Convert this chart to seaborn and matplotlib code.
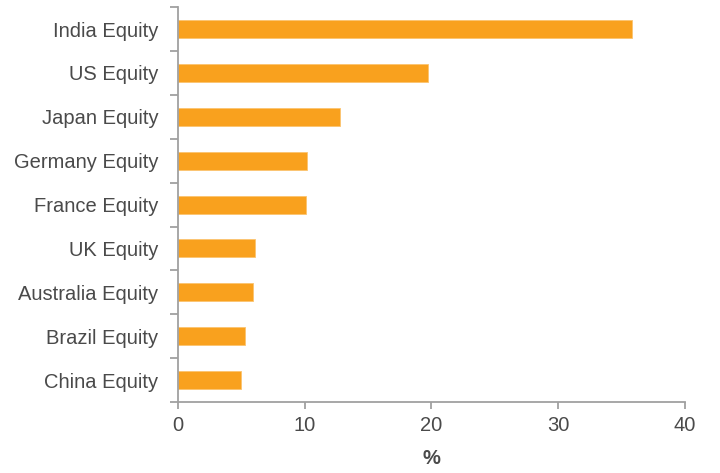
import matplotlib
matplotlib.use("Agg")
import matplotlib.pyplot as plt
import seaborn as sns
import numpy as np
import pandas as pd

categories = ["India Equity", "US Equity", "Japan Equity", "Germany Equity",
              "France Equity", "UK Equity", "Australia Equity", "Brazil Equity",
              "China Equity"]
values = [35.8, 19.7, 12.8, 10.2, 10.1, 6.1, 5.9, 5.3, 5.0]
x_ticks = [0, 10, 20, 30, 40]
x_label = "%"

sns.set_theme(style="white")
plt.rcParams["font.family"] = ["Liberation Sans", "DejaVu Sans"]

df = pd.DataFrame({"cat": categories, "val": values})

fig = plt.figure(figsize=(7.2, 4.73), dpi=100)
ax = fig.add_axes([0.2472, 0.150, 0.7042, 0.835])

sns.barplot(data=df, x="val", y="cat", orient="h", color="#F9A11E",
            saturation=1, width=0.41, edgecolor="#FBC46F", linewidth=0.6, ax=ax)

grey = "#A0A0A0"
txt = "#4A4A4A"
fs = 14.5
ax.set_xlim(0, 40)
ax.set_ylim(len(categories) - 0.5, -0.5)
ax.set_xticks(x_ticks)
ax.set_xticklabels([str(t) for t in x_ticks], fontsize=fs, color=txt)
ax.set_yticks(range(len(categories)))
ax.set_yticklabels(categories, fontsize=fs, color=txt)
ax.set_yticks(np.arange(-0.5, len(categories), 1), minor=True)
ax.tick_params(axis="y", which="major", length=0, pad=14)
ax.tick_params(axis="y", which="minor", length=6, width=1.3, color=grey, direction="out", left=True)
ax.tick_params(axis="x", which="major", length=5, width=1.3, color=grey, direction="out", bottom=True, pad=5)

for s in ["top", "right"]:
    ax.spines[s].set_visible(False)
for s in ["left", "bottom"]:
    ax.spines[s].set_color(grey)
    ax.spines[s].set_linewidth(1.3)

ax.set_ylabel("")
ax.set_xlabel(x_label, fontsize=fs, fontweight="bold", color=txt, labelpad=10)

fig.savefig("out.png", dpi=100)
